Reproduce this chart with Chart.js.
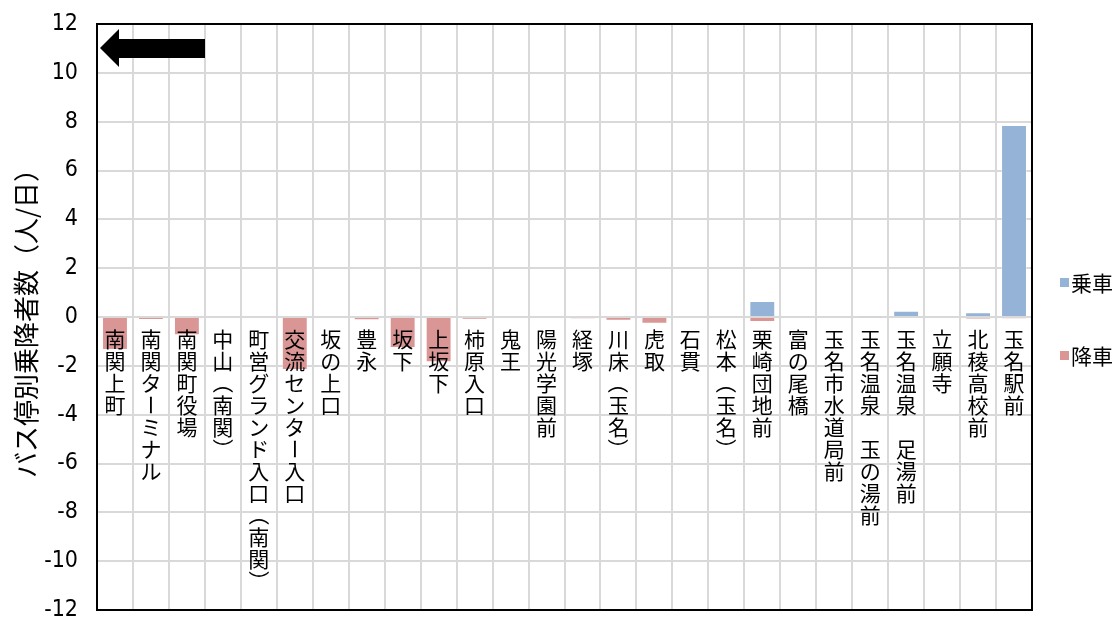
<!DOCTYPE html>
<html>
<head>
<meta charset="utf-8">
<script src="https://cdn.jsdelivr.net/npm/chart.js@4.4.1/dist/chart.umd.min.js"></script>
<style>
  html, body { margin: 0; padding: 0; background: #fff; }
  #wrap { width: 1117px; height: 619px; }
</style>
</head>
<body>
<div id="wrap"><canvas id="mychart" width="1117" height="619"></canvas></div>
<script>
const stops = ['南関上町', '南関ターミナル', '南関町役場', '中山（南関）', '町営グランド入口（南関）',
  '交流センター入口', '坂の上口', '豊永', '坂下', '上坂下', '柿原入口', '鬼王', '陽光学園前', '経塚',
  '川床（玉名）', '虎取', '石貫', '松本（玉名）', '栗崎団地前', '富の尾橋', '玉名市水道局前',
  '玉名温泉　玉の湯前', '玉名温泉　足湯前', '立願寺', '北稜高校前', '玉名駅前'];
const boarding = [0, 0, 0, 0, 0, 0, 0, 0, 0.06, 0, 0, 0, 0, 0, 0, 0, 0, 0, 0.66, 0, 0, 0.03, 0.26, 0, 0.19, 7.86];
const alighting = [-1.35, -0.12, -0.75, -0.04, -0.04, -2.17, 0, -0.13, -1.27, -1.85, -0.1, 0, -0.05, -0.07,
  -0.15, -0.28, 0, -0.05, -0.2, 0, -0.04, -0.03, -0.05, 0, -0.08, -0.07];
const seriesNames = ['乗車', '降車'];
const seriesColors = ['#95b3d7', '#d99694'];
const yTicks = { min: -12, max: 12, step: 2 };

const jpFont = '"Noto Sans CJK JP", "Noto Sans", sans-serif';
const numFont = '"Liberation Sans Narrow", "DejaVu Sans Condensed", "Liberation Sans", sans-serif';

// vertical stop names written inside the plot, under the zero line
const stopLabels = {
  id: 'stopLabels',
  afterDatasetsDraw(chart) {
    const { ctx, scales: { x, y } } = chart;
    const y0 = y.getPixelForValue(0);
    const step = 22;
    ctx.save();
    ctx.fillStyle = '#000';
    ctx.font = '21px ' + jpFont;
    ctx.textAlign = 'center';
    ctx.textBaseline = 'middle';
    stops.forEach((name, i) => {
      const cx = x.getPixelForValue(i);
      let cy = y0 + 11 + step / 2;
      for (const ch of name) {
        if (ch === '（' || ch === '）' || ch === 'ー') {
          ctx.save();
          ctx.translate(cx, cy);
          ctx.rotate(Math.PI / 2);
          ctx.fillText(ch, 0, 0);
          ctx.restore();
        } else if (ch !== '　') {
          ctx.fillText(ch, cx, cy);
        }
        cy += step;
      }
    });
    ctx.restore();
  }
};

// frame, arrow and legend
const extras = {
  id: 'extras',
  afterDraw(chart) {
    const { ctx, chartArea: a } = chart;
    ctx.save();
    ctx.strokeStyle = '#000';
    ctx.lineWidth = 2;
    ctx.strokeRect(a.left, a.top, a.right - a.left, a.bottom - a.top);

    // left pointing arrow
    const ay = a.top + 24;
    ctx.fillStyle = '#000';
    ctx.beginPath();
    ctx.moveTo(a.left + 3, ay);
    ctx.lineTo(a.left + 22, ay - 19);
    ctx.lineTo(a.left + 22, ay - 9);
    ctx.lineTo(a.left + 108, ay - 9);
    ctx.lineTo(a.left + 108, ay + 10);
    ctx.lineTo(a.left + 22, ay + 10);
    ctx.lineTo(a.left + 22, ay + 19);
    ctx.closePath();
    ctx.fill();

    // legend
    ctx.font = '21px ' + jpFont;
    ctx.textBaseline = 'middle';
    ctx.textAlign = 'left';
    const ly = [283, 356];
    seriesNames.forEach((n, i) => {
      ctx.fillStyle = seriesColors[i];
      ctx.fillRect(1060, ly[i] - 5, 9, 9);
      ctx.fillStyle = '#000';
      ctx.fillText(n, 1071, ly[i]);
    });
    ctx.restore();
  }
};

const ctx = document.getElementById('mychart').getContext('2d');
let mychart = new Chart(ctx, {
  type: 'bar',
  data: {
    labels: stops,
    datasets: [
      {
        label: seriesNames[0],
        data: boarding,
        backgroundColor: seriesColors[0],
        borderColor: 'rgba(255,255,255,0.35)',
        borderWidth: 1
      },
      {
        label: seriesNames[1],
        data: alighting,
        backgroundColor: seriesColors[1],
        borderColor: 'rgba(255,255,255,0.35)',
        borderWidth: 1
      }
    ]
  },
  options: {
    responsive: false,
    animation: false,
    layout: { padding: { top: 24, bottom: 9, right: 85, left: 0 } },
    plugins: {
      legend: { display: false },
      tooltip: { enabled: false }
    },
    scales: {
      x: {
        stacked: true,
        categoryPercentage: 0.56,
        barPercentage: 1,
        ticks: { display: false },
        border: { display: false },
        grid: { color: '#d9d9d9', lineWidth: 2, drawTicks: false, offset: true },
        afterFit(scale) {
          scale.height = 0;
          scale.paddingLeft = 0; scale.paddingRight = 0;
          scale.paddingTop = 0; scale.paddingBottom = 0;
        }
      },
      y: {
        stacked: true,
        min: yTicks.min,
        max: yTicks.max,
        ticks: {
          stepSize: yTicks.step,
          padding: 19,
          color: '#000',
          font: { family: numFont, size: 23 }
        },
        border: { display: false },
        grid: { color: '#d9d9d9', lineWidth: 2, drawTicks: false },
        title: {
          display: true,
          text: 'バス停別乗降者数（人/日）',
          color: '#000',
          font: { family: jpFont, size: 26 },
          padding: { top: 11, bottom: 0 }
        },
        afterFit(scale) {
          scale.width = 97;
          scale.paddingTop = 0; scale.paddingBottom = 0;
        }
      }
    }
  },
  plugins: [stopLabels, extras]
});
</script>
</body>
</html>
